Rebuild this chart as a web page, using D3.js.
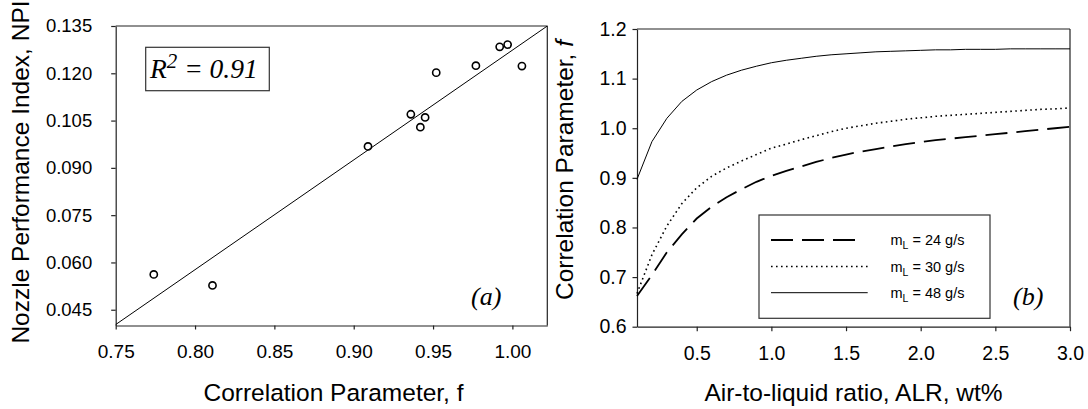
<!DOCTYPE html>
<html>
<head>
<meta charset="utf-8">
<script src="https://cdn.jsdelivr.net/npm/d3@7"></script>
<style>
  html, body { margin: 0; padding: 0; background: #fff; }
  svg { display: block; }
  text { font-family: "Liberation Sans", Arial, sans-serif; fill: #000; }
  .serif { font-family: "Liberation Serif", "Times New Roman", serif; font-style: italic; }
</style>
</head>
<body>
<svg id="chart" width="1088" height="409"></svg>
<script>
// ---------------- Panel (a) data ----------------
const corrParam = [0.774, 0.811, 0.909, 0.936, 0.942, 0.945, 0.952, 0.977, 0.992, 0.997, 1.006];
const npiValues = [0.0562, 0.0527, 0.0968, 0.1070, 0.1029, 0.1060, 0.1202, 0.1224, 0.1284, 0.1291, 0.1223];
const fitLineF = [0.75, 1.022];
const fitLineNPI = [0.0403, 0.135];
const aXTicks = [0.75, 0.80, 0.85, 0.90, 0.95, 1.00];
const aYTicks = [0.045, 0.060, 0.075, 0.090, 0.105, 0.120, 0.135];

// ---------------- Panel (b) data ----------------
const alr = [0.1,0.2,0.3,0.4,0.5,0.6,0.7,0.8,0.9,1.0,1.1,1.2,1.3,1.4,1.5,1.6,1.7,1.8,1.9,2.0,2.1,2.2,2.3,2.4,2.5,2.6,2.7,2.8,2.9,3.0];
const f24 = [0.662,0.704,0.750,0.786,0.818,0.842,0.861,0.877,0.892,0.904,0.914,0.923,0.932,0.940,0.947,0.953,0.958,0.963,0.968,0.972,0.976,0.979,0.982,0.985,0.988,0.991,0.994,0.997,1.000,1.003];
const f30 = [0.667,0.745,0.803,0.848,0.880,0.903,0.920,0.934,0.947,0.960,0.968,0.977,0.985,0.993,1.000,1.005,1.010,1.014,1.018,1.021,1.024,1.026,1.028,1.030,1.032,1.034,1.036,1.038,1.039,1.041];
const f48 = [0.897,0.973,1.020,1.054,1.077,1.094,1.107,1.117,1.125,1.132,1.137,1.141,1.145,1.148,1.150,1.152,1.154,1.155,1.156,1.157,1.158,1.158,1.159,1.159,1.159,1.160,1.160,1.160,1.160,1.160];
const seriesLabels = ["24 g/s", "30 g/s", "48 g/s"];
const bXTicks = [0.5, 1.0, 1.5, 2.0, 2.5, 3.0];
const bYTicks = [0.6, 0.7, 0.8, 0.9, 1.0, 1.1, 1.2];

const svg = d3.select("#chart");
svg.append("rect").attr("width", 1088).attr("height", 409).attr("fill", "#fff");

const titleFont = "24.5px";
const frameColor = "#222";

function styleAxis(g, size) {
  g.selectAll("path.domain").attr("stroke", frameColor).attr("stroke-width", 1.2);
  g.selectAll(".tick line").attr("stroke", frameColor).attr("stroke-width", 1.2);
  g.selectAll(".tick text")
    .style("font-family", '"Liberation Sans", Arial, sans-serif')
    .style("font-size", size).attr("fill", "#000");
}

// ================= Panel (a) =================
{
  const L = 115.7, R = 547.3, T = 26, B = 325.5;
  const x = d3.scaleLinear().domain([0.75, 1.022]).range([L, R]);
  const y = d3.scaleLinear().domain([0.04, 0.135]).range([B, T]);
  const g = svg.append("g");

  g.append("line").attr("x1", L).attr("x2", R).attr("y1", T).attr("y2", T)
    .attr("stroke", frameColor).attr("stroke-width", 1.2);
  g.append("line").attr("x1", R).attr("x2", R).attr("y1", T).attr("y2", B)
    .attr("stroke", frameColor).attr("stroke-width", 1.2);

  const xAxis = g.append("g").attr("transform", `translate(0,${B})`)
    .call(d3.axisBottom(x).tickValues(aXTicks).tickFormat(d3.format(".2f"))
      .tickSizeInner(4).tickSizeOuter(0).tickPadding(15));
  styleAxis(xAxis, "19px");
  const yAxis = g.append("g").attr("transform", `translate(${L},0)`)
    .call(d3.axisLeft(y).tickValues(aYTicks).tickFormat(d3.format(".3f"))
      .tickSizeInner(4.5).tickSizeOuter(0).tickPadding(19));
  styleAxis(yAxis, "18.5px");

  g.append("line")
    .attr("x1", x(fitLineF[0])).attr("y1", y(fitLineNPI[0]))
    .attr("x2", x(fitLineF[1])).attr("y2", y(fitLineNPI[1]))
    .attr("stroke", "#000").attr("stroke-width", 1);

  g.selectAll("circle.pt").data(corrParam).join("circle")
    .attr("class", "pt")
    .attr("cx", d => x(d))
    .attr("cy", (d, i) => y(npiValues[i]))
    .attr("r", 3.6)
    .attr("fill", "none").attr("stroke", "#000").attr("stroke-width", 1.6);

  g.append("rect").attr("x", 145.7).attr("y", 47.3).attr("width", 123.6).attr("height", 43.4)
    .attr("fill", "#fff").attr("stroke", "#333").attr("stroke-width", 1.2);
  const rt = g.append("text").attr("class", "serif").attr("x", 150).attr("y", 78)
    .style("font-size", "27.5px");
  rt.append("tspan").text("R");
  rt.append("tspan").attr("dy", -10).style("font-size", "21px").text("2");
  rt.append("tspan").attr("dy", 10).text(" = 0.91");

  g.append("text").attr("class", "serif").attr("x", 471).attr("y", 305)
    .style("font-size", "26px").text("(a)");

  g.append("text").attr("x", (L + R) / 2 + 2).attr("y", 401)
    .attr("text-anchor", "middle").style("font-size", titleFont)
    .text("Correlation Parameter, f");
  g.append("text").attr("transform", "translate(29,172) rotate(-90)")
    .attr("text-anchor", "middle").style("font-size", titleFont)
    .text("Nozzle Performance Index, NPI");
}

// ================= Panel (b) =================
{
  const L = 637, R = 1070, T = 29, B = 326.7;
  const x = d3.scaleLinear().domain([0.1, 3.0]).range([L, R]);
  const y = d3.scaleLinear().domain([0.6, 1.2]).range([B, T]);
  const g = svg.append("g");

  g.append("line").attr("x1", L).attr("x2", R).attr("y1", T).attr("y2", T)
    .attr("stroke", frameColor).attr("stroke-width", 1.2);
  g.append("line").attr("x1", R).attr("x2", R).attr("y1", T).attr("y2", B)
    .attr("stroke", frameColor).attr("stroke-width", 1.2);

  const xAxis = g.append("g").attr("transform", `translate(0,${B})`)
    .call(d3.axisBottom(x).tickValues(bXTicks).tickFormat(d3.format(".1f"))
      .tickSizeInner(4.5).tickSizeOuter(0).tickPadding(15));
  styleAxis(xAxis, "19.5px");
  const yAxis = g.append("g").attr("transform", `translate(${L},0)`)
    .call(d3.axisLeft(y).tickValues(bYTicks).tickFormat(d3.format(".1f"))
      .tickSizeInner(4.5).tickSizeOuter(0).tickPadding(6));
  styleAxis(yAxis, "19.5px");

  const line = d3.line().x((d, i) => x(alr[i])).y(d => y(d));
  const styles = [
    { data: f24, dash: "22,9", w: 1.8 },
    { data: f30, dash: "1.6,3.4", w: 1.6 },
    { data: f48, dash: null, w: 1.0 }
  ];
  styles.forEach(s => {
    g.append("path").datum(s.data).attr("d", line)
      .attr("fill", "none").attr("stroke", "#000")
      .attr("stroke-width", s.w)
      .attr("stroke-dasharray", s.dash);
  });

  g.append("rect").attr("x", 759).attr("y", 215).attr("width", 231).attr("height", 103.3)
    .attr("fill", "#fff").attr("stroke", "#333").attr("stroke-width", 1.2);
  const rowsY = [240, 266.5, 292.7];
  styles.forEach((s, i) => {
    g.append("line").attr("x1", 771).attr("x2", i === 0 ? 860 : 867.7)
      .attr("y1", rowsY[i]).attr("y2", rowsY[i])
      .attr("stroke", "#000").attr("stroke-width", s.w)
      .attr("stroke-dasharray", s.dash);
    const t = g.append("text").attr("x", 890.5).attr("y", rowsY[i] + 5)
      .style("font-size", "14.5px");
    t.append("tspan").text("m");
    t.append("tspan").attr("dy", 4).style("font-size", "10.5px").text("L");
    t.append("tspan").attr("dy", -4).text(" = " + seriesLabels[i]);
  });

  g.append("text").attr("class", "serif").attr("x", 1013).attr("y", 305)
    .style("font-size", "26px").text("(b)");

  g.append("text").attr("x", (L + R) / 2).attr("y", 401)
    .attr("text-anchor", "middle").style("font-size", titleFont)
    .text("Air-to-liquid ratio, ALR, wt%");
  const yt = g.append("text").attr("transform", "translate(573,170) rotate(-90)")
    .attr("text-anchor", "middle").style("font-size", titleFont);
  yt.append("tspan").text("Correlation Parameter, ");
  yt.append("tspan").style("font-style", "italic").text("f");
}
</script>
</body>
</html>
